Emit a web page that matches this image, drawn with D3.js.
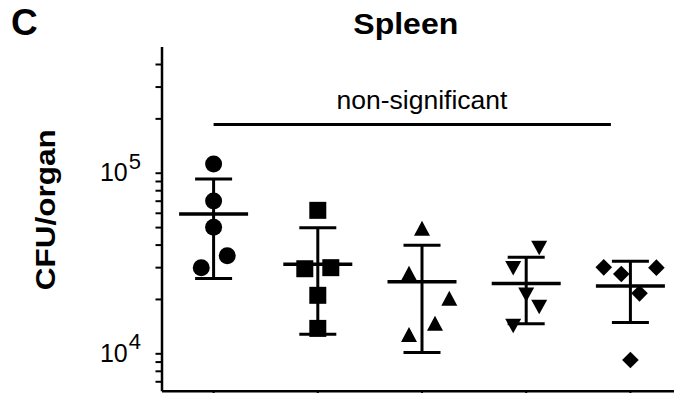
<!DOCTYPE html>
<html>
<head>
<meta charset="utf-8">
<script src="https://cdn.jsdelivr.net/npm/d3@7"></script>
<style>
  html, body { margin: 0; padding: 0; background: #fff; overflow: hidden; }
  svg { display: block; }
  text { font-family: "Liberation Sans", Arial, Helvetica, sans-serif; fill: #000; }
</style>
</head>
<body>
<svg id="chart" width="674" height="393"></svg>
<script>
// Spleen bacterial burden (CFU per organ), five animals per group
const groups = ["1", "2", "3", "4", "5"];
const symbols = ["circle", "square", "triangleUp", "triangleDown", "diamond"];

const cfuGroup1 = [111700, 69700, 49900, 34700, 29800];
const cfuGroup2 = [61900, 29400, 29800, 20950, 13740];
const cfuGroup3 = [49200, 27740, 20160, 14660, 12730];
const cfuGroup4 = [38400, 29700, 21200, 18100, 14200];
const cfuGroup5 = [29930, 29800, 27480, 21480, 9180];

// horizontal dodge slot of each point, so overlapping symbols sit side by side
const slotGroup1 = [0, 0, 0, 1.05, -0.95];
const slotGroup2 = [0, -1, 1, 0, 0];
const slotGroup3 = [0, -1, 2.1, 1, -1];
const slotGroup4 = [1, -1, 0, 1, -1];
const slotGroup5 = [-2.05, 2, -0.7, 0.7, 0];

const yTickLabels = [{ base: "10", exp: "4", value: 1e4 }, { base: "10", exp: "5", value: 1e5 }];
const yDomain = [6200, 5e5];
const titleText = "Spleen";
const panelLetter = "C";
const yAxisTitle = "CFU/organ";
const comparisonLabel = "non-significant";

const cfu = [cfuGroup1, cfuGroup2, cfuGroup3, cfuGroup4, cfuGroup5];
const slots = [slotGroup1, slotGroup2, slotGroup3, slotGroup4, slotGroup5];

const svg = d3.select("#chart");

const x = d3.scaleBand().domain(groups).range([161.5, 682.5]).padding(0);
const cx = g => x(g) + x.bandwidth() / 2;
const y = d3.scaleLog().domain(yDomain).range([390.8, 46.5]);

// symbol outlines, each centred on its bounding box
function symbolPath(kind) {
  switch (kind) {
    case "circle": return "M8.5,0A8.5,8.5 0 1,1 -8.5,0A8.5,8.5 0 1,1 8.5,0Z";
    case "square": return "M-8.5,-8.5H8.5V8.5H-8.5Z";
    case "triangleUp": return "M0,-7.5L8,7.5H-8Z";
    case "triangleDown": return "M-8,-7L8,-7L0,7.5Z";
    case "diamond": return "M0,-8.3L8.3,0L0,8.3L-8.3,0Z";
  }
}

// y axis: log ticks at 1..9 x 10^k inside the domain
const yTicks = [];
for (let k = 3; k <= 5; k++) {
  for (let m = 1; m <= 9; m++) {
    const v = m * Math.pow(10, k);
    if (v >= yDomain[0] && v < yDomain[1]) yTicks.push(v);
  }
}

const yAxis = svg.append("g")
  .attr("transform", "translate(161.5,0)")
  .call(d3.axisLeft(y).tickValues(yTicks).tickSize(6).tickSizeOuter(0).tickFormat(""));
yAxis.select(".domain").attr("stroke", "#000").attr("stroke-width", 2.5);
yAxis.selectAll(".tick line").attr("stroke", "#000").attr("stroke-width", 2);

const xAxis = svg.append("g")
  .attr("transform", "translate(0,390.8)")
  .call(d3.axisBottom(x).tickSize(6).tickSizeOuter(0).tickFormat(""));
xAxis.select(".domain").attr("stroke", "#000").attr("stroke-width", 2.5);
xAxis.selectAll(".tick line").attr("stroke", "#000").attr("stroke-width", 2);

// decade labels with superscript exponent
const yLab = svg.append("g").selectAll("text").data(yTickLabels).join("text")
  .attr("x", 141)
  .attr("y", d => y(d.value) + 8.5)
  .attr("text-anchor", "end");
yLab.append("tspan").attr("font-size", 25).text(d => d.base);
yLab.append("tspan").attr("font-size", 22).attr("dy", -12.6).attr("dx", 1).text(d => d.exp);

// axis title
svg.append("text")
  .attr("transform", "translate(55,209.7) rotate(-90)")
  .attr("text-anchor", "middle")
  .attr("font-size", 27)
  .attr("font-weight", "bold")
  .attr("textLength", 161)
  .attr("lengthAdjust", "spacingAndGlyphs")
  .text(yAxisTitle);

// chart title and panel letter
svg.append("text")
  .attr("x", 405.8).attr("y", 33.5)
  .attr("text-anchor", "middle")
  .attr("font-size", 30)
  .attr("font-weight", "bold")
  .attr("textLength", 105)
  .attr("lengthAdjust", "spacingAndGlyphs")
  .text(titleText);

svg.append("text")
  .attr("x", 11).attr("y", 35)
  .attr("font-size", 37)
  .attr("font-weight", "bold")
  .text(panelLetter);

// comparison bar across groups
const first = groups[0], last = groups[groups.length - 1];
svg.append("line")
  .attr("x1", cx(first)).attr("x2", cx(last) - 19.5)
  .attr("y1", 124.5).attr("y2", 124.5)
  .attr("stroke", "#000").attr("stroke-width", 3);
svg.append("text")
  .attr("x", (cx(first) + cx(last)) / 2).attr("y", 109.3)
  .attr("text-anchor", "middle")
  .attr("font-size", 25)
  .attr("textLength", 171)
  .attr("lengthAdjust", "spacingAndGlyphs")
  .text(comparisonLabel);

// per-group points, mean line and mean ± SD error bar
const slotWidth = 13;
groups.forEach((g, i) => {
  const vals = cfu[i];
  const mean = d3.mean(vals);
  const sd = d3.deviation(vals);
  const c = cx(g);
  const grp = svg.append("g");

  grp.selectAll("path.pt").data(vals).join("path")
    .attr("class", "pt")
    .attr("d", symbolPath(symbols[i]))
    .attr("transform", (v, j) => `translate(${c + slots[i][j] * slotWidth},${y(v)})`)
    .attr("fill", "#000");

  const line = (x1, x2, y1, y2, w) => grp.append("line")
    .attr("x1", x1).attr("x2", x2).attr("y1", y1).attr("y2", y2)
    .attr("stroke", "#000").attr("stroke-width", w);

  line(c, c, y(mean + sd), y(mean - sd), 3);
  line(c - 18.5, c + 18.5, y(mean + sd), y(mean + sd), 3);
  line(c - 18.5, c + 18.5, y(mean - sd), y(mean - sd), 3);
  line(c - 34.5, c + 34.5, y(mean), y(mean), 3.5);
});
</script>
</body>
</html>
